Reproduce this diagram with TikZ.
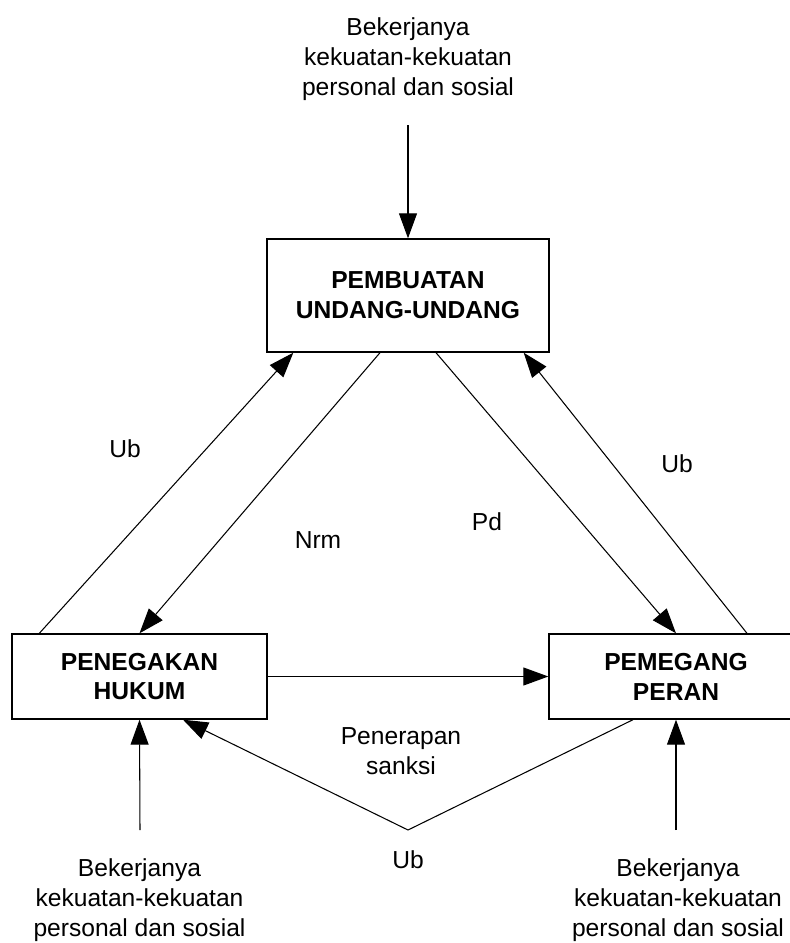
\documentclass[tikz,border=0pt]{standalone}
\usepackage{fontspec}
\setmainfont{Liberation Sans}
\usetikzlibrary{arrows.meta,calc}
\tikzset{
  kotak/.style={draw,line width=0.8pt,rectangle,inner sep=0pt,align=center,
    font=\fontsize{14}{17}\selectfont\bfseries},
  teks/.style={align=center,inner sep=0pt,font=\fontsize{14}{17}\selectfont},
  garis/.style={line width=0.6pt},
  panah/.style={garis,-{Triangle[length=5mm,width=3.6mm]}}
}
\begin{document}
\begin{tikzpicture}[x=0.02cm,y=-0.02cm]
	\useasboundingbox (0,0) rectangle (790,943);
	\clip (0,0) rectangle (790,943);
	% kotak
	\node[kotak,minimum width=5.64cm,minimum height=2.26cm] (uu) at (408,295.5) {PEMBUATAN\\UNDANG-UNDANG};
	\node[kotak,minimum width=5.1cm,minimum height=1.7cm] (ph) at (139.5,676.5) {PENEGAKAN\\HUKUM};
	\node[kotak,minimum width=5.08cm,minimum height=1.7cm] (pp) at (676,676.5) {PEMEGANG\\PERAN};
	% teks luar
	\node[teks] (katas) at (408,59) {Bekerjanya\\kekuatan-kekuatan\\personal dan sosial};
	\node[teks] (kkiri) at (139.5,900) {Bekerjanya\\kekuatan-kekuatan\\personal dan sosial};
	\node[teks] (kkanan) at (678,900) {Bekerjanya\\kekuatan-kekuatan\\personal dan sosial};
	\node[teks] (sanksi) at (401,751) {Penerapan\\sanksi};
	\node[teks] (ubkiri) at (125,449) {Ub};
	\node[teks] (ubkanan) at (677,464) {Ub};
	\node[teks] (ubbawah) at (408,860) {Ub};
	\node[teks] (nrm) at (318,540) {Nrm};
	\node[teks] (pd) at (487,522) {Pd};
	% titik bebas
	\coordinate (atas) at (408,125);
	\coordinate (sudut) at (408,830);
	\coordinate (bkiri) at (140,830);
	\coordinate (bkanan) at (676,830);
	% panah
	\draw[panah] (atas) -- (uu.north);
	\draw[panah] ($(ph.north west)+(28,0)$) -- ($(uu.south west)+(27,0)$);
	\draw[panah] ($(uu.south)+(-28,0)$) -- (ph.north);
	\draw[panah] ($(uu.south)+(28,0)$) -- (pp.north);
	\draw[panah] ($(pp.north)+(71,0)$) -- ($(uu.south east)+(-26,0)$);
	\draw[panah] (ph.east) -- (pp.west);
	\draw[panah] ($(pp.south)+(-43,0)$) -- (sudut) -- ($(ph.south)+(43.5,0)$);
	\draw[panah] (bkiri) -- (ph.south);
	\draw[panah] (bkanan) -- (pp.south);
\end{tikzpicture}
\end{document}
